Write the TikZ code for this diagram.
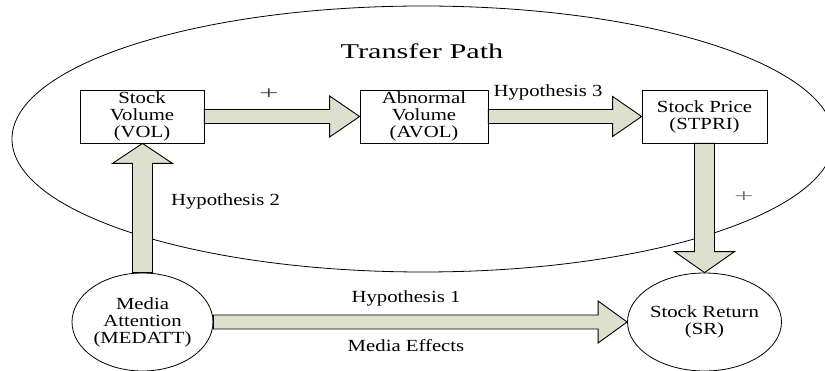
\documentclass[tikz,border=0pt]{standalone}
\usepackage{fontspec}
\setmainfont{Liberation Serif}[FakeStretch=1.22]
\usetikzlibrary{shapes.geometric,calc}
\definecolor{arrowfill}{RGB}{221,224,204}
\definecolor{plusdark}{RGB}{70,70,70}
\definecolor{plusgrey}{RGB}{115,115,115}
\tikzset{
  barrow/.style={draw=black, line width=0.9pt, fill=arrowfill, line join=miter},
  boxnode/.style={draw, line width=0.8pt, rectangle, align=center, inner sep=0pt, font=\fontsize{17}{17}\selectfont},
  ellnode/.style={draw, line width=0.8pt, ellipse, align=center, inner sep=0pt, font=\fontsize{17}{17}\selectfont},
  lbl/.style={inner sep=0pt, anchor=base, font=\fontsize{17}{17}\selectfont},
  pluslbl/.style={inner sep=0pt, anchor=center, font=\fontsize{19}{19}\selectfont},
}
% horizontal block arrow: start, end, shaft half, head half, head length
\newcommand\blkH[5]{\draw[barrow] let \p1=(#1), \p2=(#2) in
  (\x1,\y1+#3) -- (\x2-#5,\y1+#3) -- (\x2-#5,\y1+#4) -- (\x2,\y1) -- (\x2-#5,\y1-#4) -- (\x2-#5,\y1-#3) -- (\x1,\y1-#3) -- cycle;}
% downward block arrow
\newcommand\blkDown[5]{\draw[barrow] let \p1=(#1), \p2=(#2) in
  (\x1-#3,\y1) -- (\x1-#3,\y2+#5) -- (\x1-#4,\y2+#5) -- (\x1,\y2) -- (\x1+#4,\y2+#5) -- (\x1+#3,\y2+#5) -- (\x1+#3,\y1) -- cycle;}
% upward block arrow
\newcommand\blkUp[5]{\draw[barrow] let \p1=(#1), \p2=(#2) in
  (\x1-#3,\y1) -- (\x1-#3,\y2-#5) -- (\x1-#4,\y2-#5) -- (\x1,\y2) -- (\x1+#4,\y2-#5) -- (\x1+#3,\y2-#5) -- (\x1+#3,\y1) -- cycle;}
\begin{document}
\begin{tikzpicture}[x=1pt,y=-1pt]
\useasboundingbox (0,0) rectangle (825,371);
% transfer path ellipse
\draw[line width=0.8pt] (423,139) ellipse [x radius=411, y radius=133];
\node[lbl, font=\fontsize{21}{21}\selectfont] (tp) at (422,59) {\scalebox{1.18}[1]{Transfer Path}};

% nodes
\node[boxnode, minimum width=124pt, minimum height=53pt] (vol) at (142,116.5) {Stock\\Volume\\(VOL)};
\node[boxnode, minimum width=128pt, minimum height=53pt] (avol) at (424,116.5) {Abnormal\\Volume\\(AVOL)};
\node[boxnode, minimum width=125pt, minimum height=53pt] (stpri) at (704.5,116.5) {Stock Price\\(STPRI)};
\node[ellnode, minimum width=141pt, minimum height=98pt] (med) at (142.5,322) {Media\\Attention\\(MEDATT)};
\node[ellnode, minimum width=145pt, minimum height=98pt] (sr) at (704.5,322) {Stock Return\\(SR)};

% block arrows
\blkH{vol.east}{avol.west}{7pt}{20.5pt}{30pt}
\blkH{avol.east}{stpri.west}{7pt}{20pt}{29pt}
\blkH{med.east}{sr.west}{7pt}{21pt}{29pt}
\blkDown{stpri.south}{sr.north}{10pt}{30pt}{21pt}
\blkUp{med.north}{vol.south}{10pt}{30pt}{20pt}

% labels
\node[pluslbl, text=plusdark] (plus1) at (269,94) {\scalebox{1.5}[1]{+}};
\node[lbl] (h3) at (548,97) {Hypothesis 3};
\node[lbl] (h2) at (225.5,206) {Hypothesis 2};
\node[pluslbl, text=plusgrey] (plus2) at (744,197) {\scalebox{1.5}[1]{+}};
\node[lbl] (h1) at (406,303) {Hypothesis 1};
\node[lbl] (me) at (406,352) {Media Effects};
\end{tikzpicture}
\end{document}
